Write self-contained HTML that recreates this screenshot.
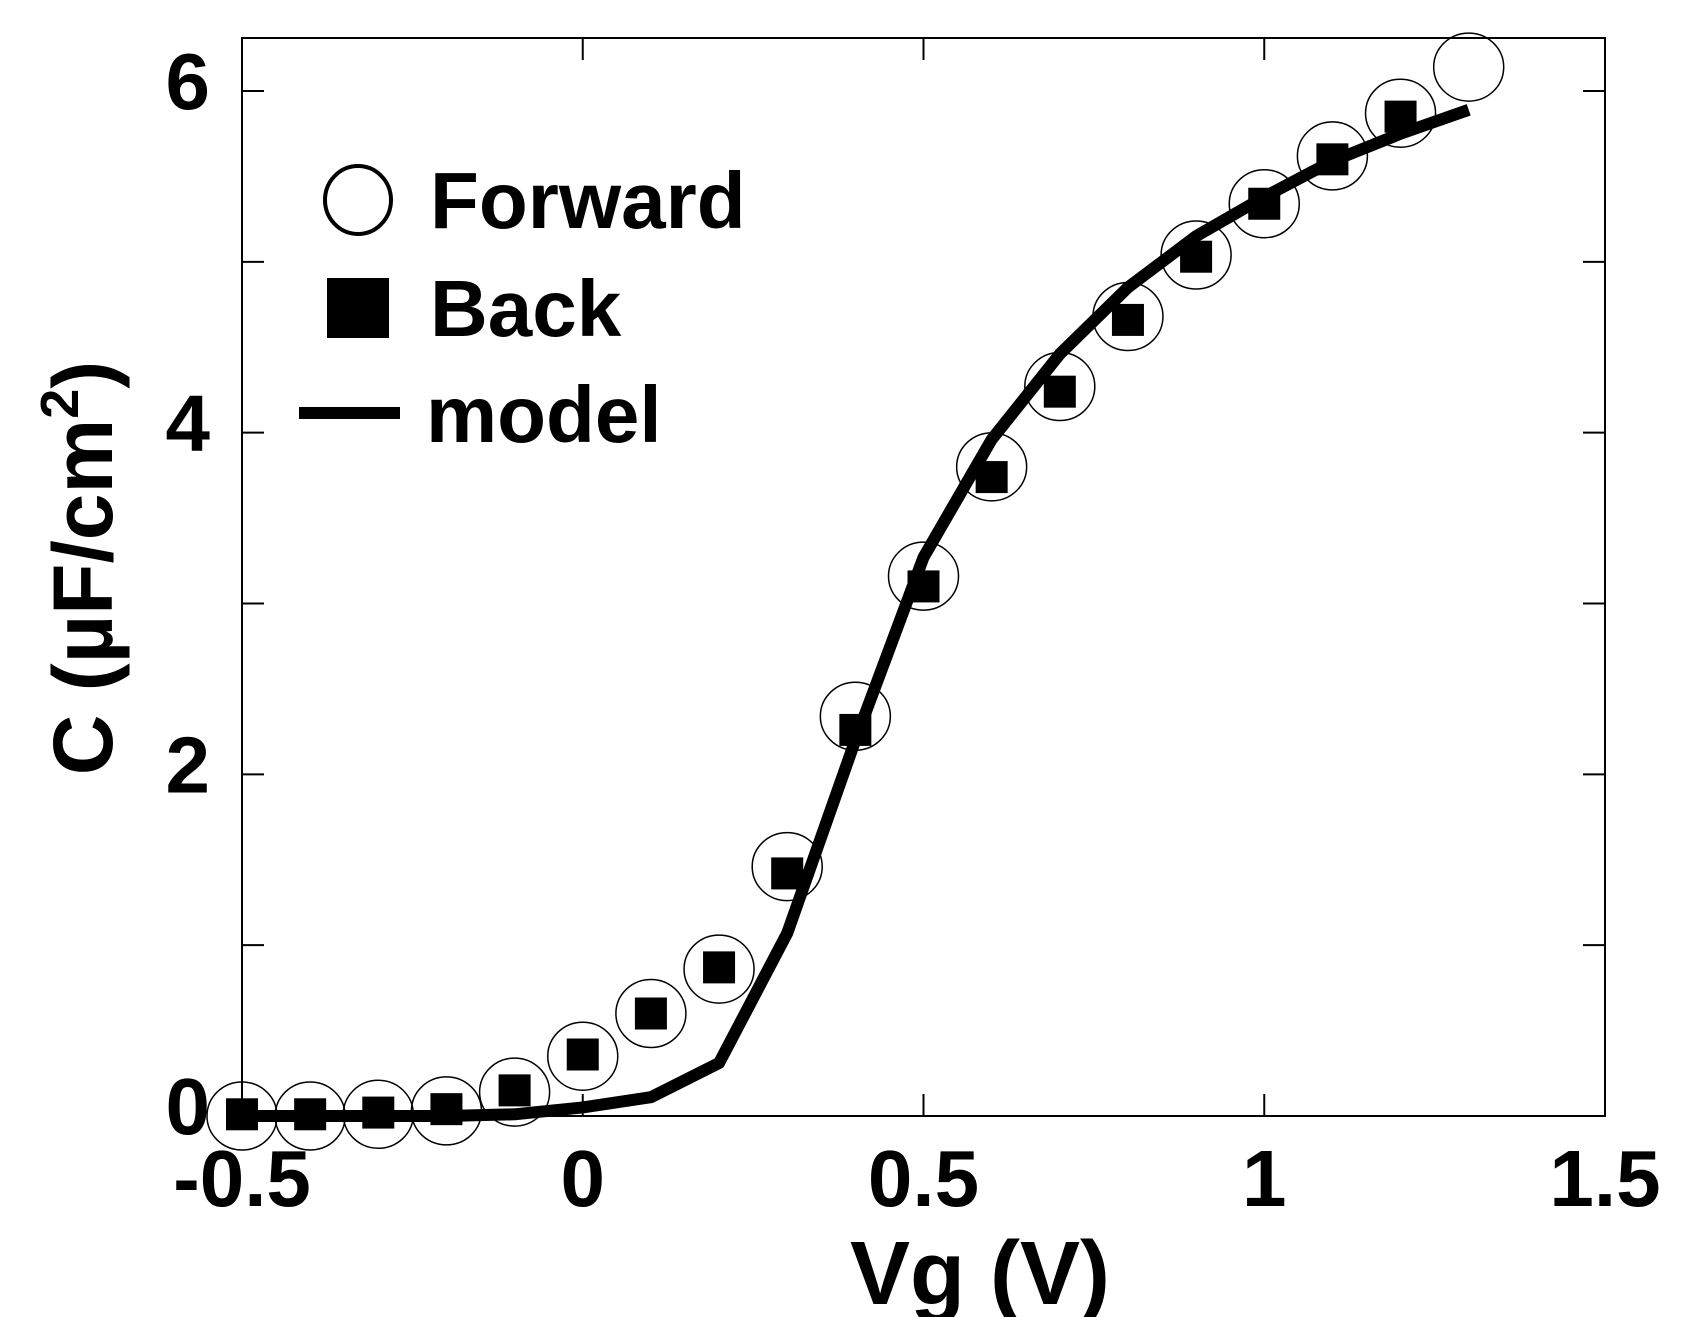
<!DOCTYPE html>
<html><head><meta charset="utf-8"><style>
html,body{margin:0;padding:0;background:#fff;}
svg{display:block;font-family:"Liberation Sans",Arial,sans-serif;font-weight:bold;}
</style></head><body>
<svg id="chart" width="1682" height="1317" viewBox="0 0 1682 1317"></svg>
<script>
const xVals=[-0.5,-0.4,-0.3,-0.2,-0.1,0,0.1,0.2,0.3,0.4,0.5,0.6,0.7,0.8,0.9,1.0,1.1,1.2,1.3];
const forward=[0,0,0.01,0.03,0.14,0.35,0.6,0.86,1.46,2.34,3.16,3.8,4.27,4.68,5.04,5.34,5.62,5.87,6.14];
const back=[0.01,0.01,0.02,0.04,0.15,0.36,0.6,0.87,1.42,2.26,3.1,3.74,4.24,4.66,5.03,5.34,5.6,5.85];
const model=[0,0,0,0,0.01,0.05,0.11,0.31,1.07,2.2,3.27,3.96,4.46,4.85,5.15,5.38,5.59,5.75,5.89];
const xTicks=[-0.5,0,0.5,1,1.5];
const xTickLabels=["-0.5","0","0.5","1","1.5"];
const yTicks=[0,1,2,3,4,5,6];
const yTickLabels=["0","","2","","4","","6"];
const L=242,R=1605,T=38,B=1116;
const X=v=>L+(v+0.5)/2*(R-L);
const Y=v=>B-v*(B-91)/6;
const svg=document.getElementById('chart');
const NS='http://www.w3.org/2000/svg';
function mk(tag,attrs,parent){const e=document.createElementNS(NS,tag);for(const k in attrs)e.setAttribute(k,attrs[k]);(parent||svg).appendChild(e);return e;}
let e=mk('rect',{x:L,y:T,width:R-L,height:B-T,fill:'none',stroke:'#000','stroke-width':2});


yTicks.forEach((v,i)=>{
  let t=mk('line',{x1:L,x2:L+22,y1:Y(v),y2:Y(v),stroke:'#000','stroke-width':2});
  
  
  let t2=mk('line',{x1:R-22,x2:R,y1:Y(v),y2:Y(v),stroke:'#000','stroke-width':2});
  
  
  if(yTickLabels[i]){
    let l=mk('text',{x:210,y:Y(v)+18,'text-anchor':'end','font-size':80});
    l.textContent=yTickLabels[i];
    
    
  }
});
xTicks.forEach((v,i)=>{
  let t=mk('line',{x1:X(v),x2:X(v),y1:B,y2:B-22,stroke:'#000','stroke-width':2});
  
  
  let t2=mk('line',{x1:X(v),x2:X(v),y1:T,y2:T+22,stroke:'#000','stroke-width':2});
  
  
  let l=mk('text',{x:X(v),y:1206,'text-anchor':'middle','font-size':80});
  l.textContent=xTickLabels[i];
  
  
});
forward.forEach((v,i)=>{
  let c=mk('ellipse',{cx:X(xVals[i]),cy:Y(v),rx:35,ry:34,fill:'none',stroke:'#000','stroke-width':1.5});
  
  
});
back.forEach((v,i)=>{
  let s=mk('rect',{x:X(xVals[i])-16,y:Y(v)-16,width:32,height:32,fill:'#000'});
  
  
});
let p=mk('polyline',{points:model.map((v,i)=>X(xVals[i])+','+Y(v)).join(' '),fill:'none',stroke:'#000','stroke-width':12,'stroke-linejoin':'round'});


</script>
<svg style="position:absolute;left:0;top:0" width="1682" height="1317">
<g font-family="Liberation Sans, Arial, sans-serif" font-weight="bold">
<ellipse cx="358" cy="200" rx="33" ry="34" fill="none" stroke="#000" stroke-width="4"/>
<text x="430" y="228" font-size="80">Forward</text>
<rect x="327" y="278" width="62" height="60" fill="#000"/>
<text x="430" y="336" font-size="80">Back</text>
<line x1="299" y1="413" x2="400" y2="413" stroke="#000" stroke-width="12"/>
<text x="426" y="442" font-size="80">model</text>
<text x="980" y="1304" text-anchor="middle" font-size="90">Vg (V)</text>
<text transform="translate(112,568) rotate(-90)" text-anchor="middle" font-size="84">C (µF/cm<tspan dy="-34" font-size="54">2</tspan><tspan dy="34">)</tspan></text>
</g></svg>
</body></html>
